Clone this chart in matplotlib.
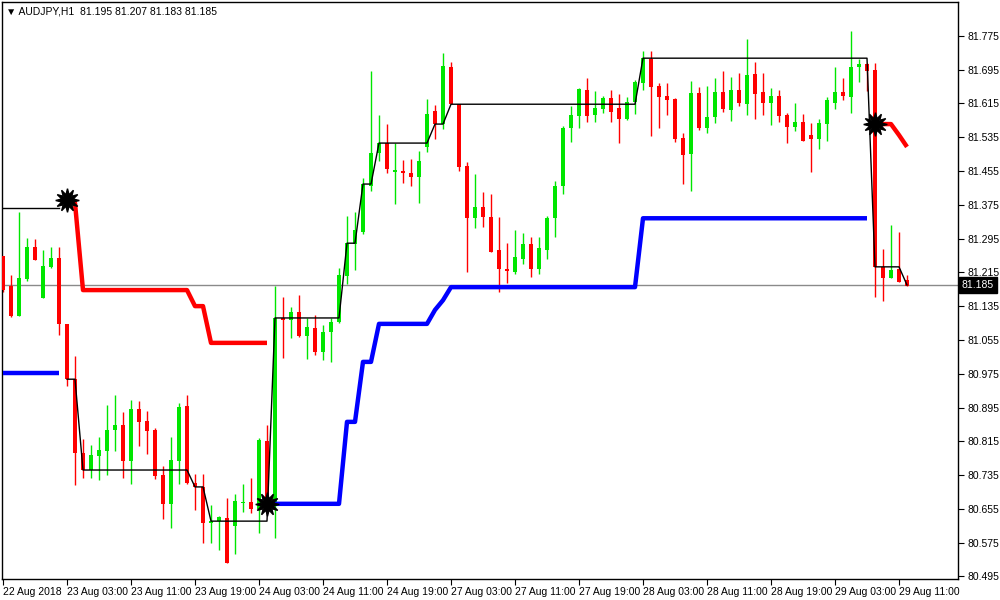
import numpy as np
import matplotlib
matplotlib.use("Agg")
import matplotlib.pyplot as plt
from matplotlib.transforms import ScaledTranslation

plt.rcParams['font.family'] = ['Liberation Sans', 'DejaVu Sans']

# prices in thousandths above 80.000
OPEN_P = [1254,1183,1112,1199,1275,1154,1228,1249,1093,962,787,747,780,792,842,854,768,891,863,842,735,667,768,899,716,707,622,626,633,615,669,671,655,816,669,1107,1102,1121,1064,1083,1026,1074,1097,1206,1282,1310,1419,1497,1521,1452,1455,1450,1441,1512,1597,1566,1701,1613,1467,1344,1370,1346,1268,1223,1216,1246,1282,1223,1268,1344,1419,1557,1585,1646,1587,1602,1628,1604,1578,1618,1663,1720,1656,1632,1625,1533,1495,1639,1557,1583,1642,1599,1646,1613,1684,1642,1616,1632,1587,1559,1571,1540,1531,1566,1616,1642,1630,1701,1708,1694,1228,1202,1223,1197]
HIGH_P = [1254,1209,1358,1296,1294,1268,1275,1275,1093,1017,820,806,825,901,925,884,913,910,887,846,757,825,906,925,738,738,664,638,681,690,714,728,823,854,1183,1157,1133,1161,1107,1114,1090,1107,1225,1348,1358,1438,1691,1587,1566,1521,1481,1483,1502,1625,1611,1734,1713,1613,1476,1448,1405,1400,1346,1284,1315,1308,1299,1299,1348,1431,1561,1609,1651,1675,1644,1632,1646,1637,1630,1670,1739,1739,1663,1663,1628,1545,1668,1654,1656,1675,1691,1677,1687,1767,1713,1687,1651,1646,1592,1616,1590,1568,1578,1630,1701,1675,1786,1720,1710,1710,1270,1327,1310,1209]
LOW_P = [1168,1109,1112,1194,1244,1154,1225,1067,946,712,728,728,723,735,792,728,714,804,785,726,631,610,714,714,652,574,574,558,527,548,648,645,598,655,586,1012,1059,1062,1010,1019,1007,1003,1095,1187,1220,1306,1407,1478,1450,1377,1426,1419,1379,1500,1531,1554,1613,1455,1216,1320,1322,1263,1168,1190,1211,1235,1204,1211,1246,1299,1400,1523,1557,1571,1571,1592,1571,1521,1575,1590,1646,1538,1557,1587,1523,1424,1407,1552,1545,1568,1594,1573,1609,1587,1578,1587,1564,1571,1521,1549,1526,1452,1507,1526,1602,1623,1592,1665,1644,1157,1147,1202,1192,1183]
CLOSE_P = [1173,1112,1202,1275,1244,1230,1249,1093,962,787,747,783,794,842,854,768,891,861,839,733,667,771,896,716,707,622,626,636,527,674,671,655,818,655,1107,1102,1121,1064,1086,1026,1074,1097,1209,1284,1315,1424,1497,1521,1459,1457,1450,1441,1478,1590,1566,1703,1613,1464,1344,1370,1346,1263,1223,1218,1251,1282,1223,1273,1344,1419,1557,1587,1649,1585,1604,1628,1594,1578,1618,1665,1722,1654,1630,1623,1531,1493,1639,1557,1583,1642,1602,1646,1616,1682,1637,1616,1632,1585,1559,1571,1526,1531,1568,1623,1642,1632,1701,1708,1691,1228,1202,1220,1192,1183]

# indicator segments: (start index, values)
RED_SEGS = [(8, [81.386, 81.379] + [81.173]*14 + [81.135]*2 + [81.048]*8),
            (109, [81.566, 81.566, 81.566, 81.540, 81.512])]
BLUE_SEGS = [(0, [80.977]*8),
             (33, [80.667]*10 + [80.861]*2 + [81.003]*2 + [81.093]*7 + [81.126, 81.149] + [81.180]*24 + [81.343]*29)]
BLACK_SEGS = [(0, [81.367]*8),
              (8, [80.962]*2 + [80.747]*14 + [80.707]*2 + [80.626]*8 + [81.107]*9 + [81.284]*2 + [81.424]*2
                  + [81.521]*7 + [81.566]*2 + [81.613]*24 + [81.722]*29 + [81.228]*4 + [81.185])]
STARS = [(8, 81.386), (33, 80.667), (109, 81.566)]

TIME_LABELS = ["22 Aug 2018", "23 Aug 03:00", "23 Aug 11:00", "23 Aug 19:00", "24 Aug 03:00",
               "24 Aug 11:00", "24 Aug 19:00", "27 Aug 03:00", "27 Aug 11:00", "27 Aug 19:00",
               "28 Aug 03:00", "28 Aug 11:00", "28 Aug 19:00", "29 Aug 03:00", "29 Aug 11:00"]
PRICE_TICKS = [80.495 + 0.08*k for k in range(17)]
LAST = 81.185

o = 80 + np.array(OPEN_P)/1000
h = 80 + np.array(HIGH_P)/1000
l = 80 + np.array(LOW_P)/1000
c = 80 + np.array(CLOSE_P)/1000
n = len(o)
x = np.arange(n)

fig = plt.figure(figsize=(10, 6), dpi=100)
ax = fig.add_axes([0.002, 21/600, 0.956, 577/600])
ax.set_xlim(-0.125, -0.125 + 956/8)
ax.set_ylim(80.489, 81.855)

GREEN = "#00e600"; RED = "#ff0000"
up = c >= o
cols = np.where(up, GREEN, RED)
ax.vlines(x, l, h, colors=cols, linewidth=1, zorder=2)
bot = np.minimum(o, c)
hgt = np.maximum(np.abs(c - o), 0.002)
ax.bar(x, hgt, bottom=bot, width=0.62, color=cols, linewidth=0, zorder=3)

ax.axhline(LAST, color="#8a8a8a", linewidth=1, zorder=1)

for s, v in BLACK_SEGS:
    ax.plot(np.arange(s, s+len(v)), v, color="black", linewidth=1, zorder=4)
for s, v in RED_SEGS:
    ax.plot(np.arange(s, s+len(v)), v, color=RED, linewidth=3.2, zorder=5, solid_capstyle='butt')
for s, v in BLUE_SEGS:
    ax.plot(np.arange(s, s+len(v)), v, color="#0000ff", linewidth=3.2, zorder=5, solid_capstyle='butt')
for i, p in STARS:
    ax.plot([i], [p], marker=(12, 1, 0), markersize=17, color="black", zorder=6)

ax.yaxis.tick_right()
ax.set_yticks(PRICE_TICKS)
ax.set_yticklabels([f"{t:.3f}" for t in PRICE_TICKS], fontsize=7.5)
ax.set_xticks(np.arange(0, 8*len(TIME_LABELS), 8))
ax.set_xticklabels(TIME_LABELS, fontsize=7.5, ha="left")
off = ScaledTranslation(2/100, 0, fig.dpi_scale_trans)
for lab in ax.get_xticklabels():
    lab.set_transform(lab.get_transform() + off)
ax.tick_params(axis="x", length=4, pad=2)
ax.tick_params(axis="y", length=4, pad=3)
for sp in ax.spines.values():
    sp.set_linewidth(1)

ax.text(1.004, LAST, "81.185", transform=ax.get_yaxis_transform(), fontsize=7.5, color="white",
        va="center", ha="left", bbox=dict(boxstyle="square,pad=0.25", fc="black", ec="black"), zorder=10)
fig.text(0.006, 0.98, "\u25BC AUDJPY,H1  81.195 81.207 81.183 81.185", fontsize=7.5, va="center", ha="left")

fig.savefig("out.png", dpi=100)
